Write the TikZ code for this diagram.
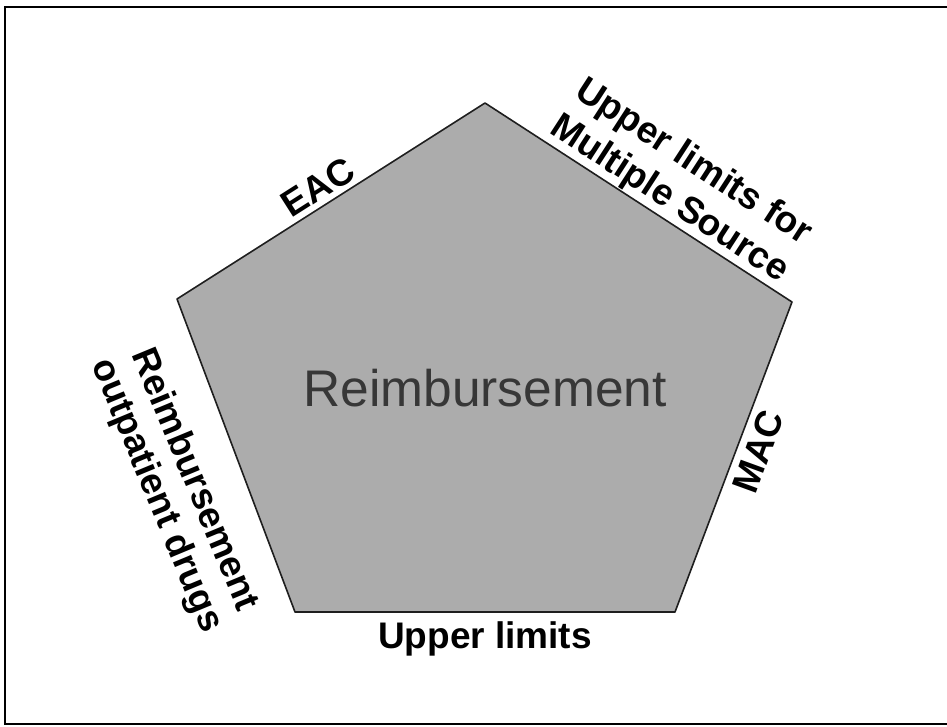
\documentclass[tikz,border=0pt]{standalone}
\usepackage{fontspec}
\setmainfont{Liberation Sans}
\usetikzlibrary{positioning,calc}
\definecolor{PentaFill}{RGB}{172,172,172}
\definecolor{PentaInk}{RGB}{30,30,30}
\definecolor{CoreText}{RGB}{55,55,55}

\begin{document}
\begin{tikzpicture}[x=1pt,y=-1pt,
  side/.style={font=\fontsize{37}{44}\selectfont\bfseries,align=center,
               inner sep=0pt,text=black},
  core/.style={font=\fontsize{51.5}{56}\selectfont,text=CoreText,inner sep=0pt},
  frame/.style={line width=2pt,draw=black}]
  \useasboundingbox (0,0) rectangle (947,727);
  % open frame (right side runs off the page)
  \draw[frame] (947,7) -- (5,7) -- (5,724) -- (947,724);
  % pentagon corners
  \coordinate (apex) at (485,103);
  \coordinate (east) at (792,302);
  \coordinate (southeast) at (675,612);
  \coordinate (southwest) at (295,612);
  \coordinate (west) at (177,299);
  \draw[fill=PentaFill,draw=PentaInk,line width=1.6pt,line join=round]
    (apex) -- (east) -- (southeast) -- (southwest) -- (west) -- cycle;
  \node[core] (reimb) at (485,388) {Reimbursement};
  \node[side,rotate=32.5] (eac) at (318,187) {EAC};
  \node[side,rotate=-33] (ulmult) at (681,181) {Upper limits for\\Multiple Source};
  \node[side,rotate=70] (mac) at (758,452) {MAC};
  \node[side] (upper) at (485,639) {Upper limits};
  \node[side,rotate=-67.5,font=\fontsize{37}{41}\selectfont\bfseries]
    (outpat) at (175,488) {Reimbursement\\outpatient drugs};
\end{tikzpicture}
\end{document}
